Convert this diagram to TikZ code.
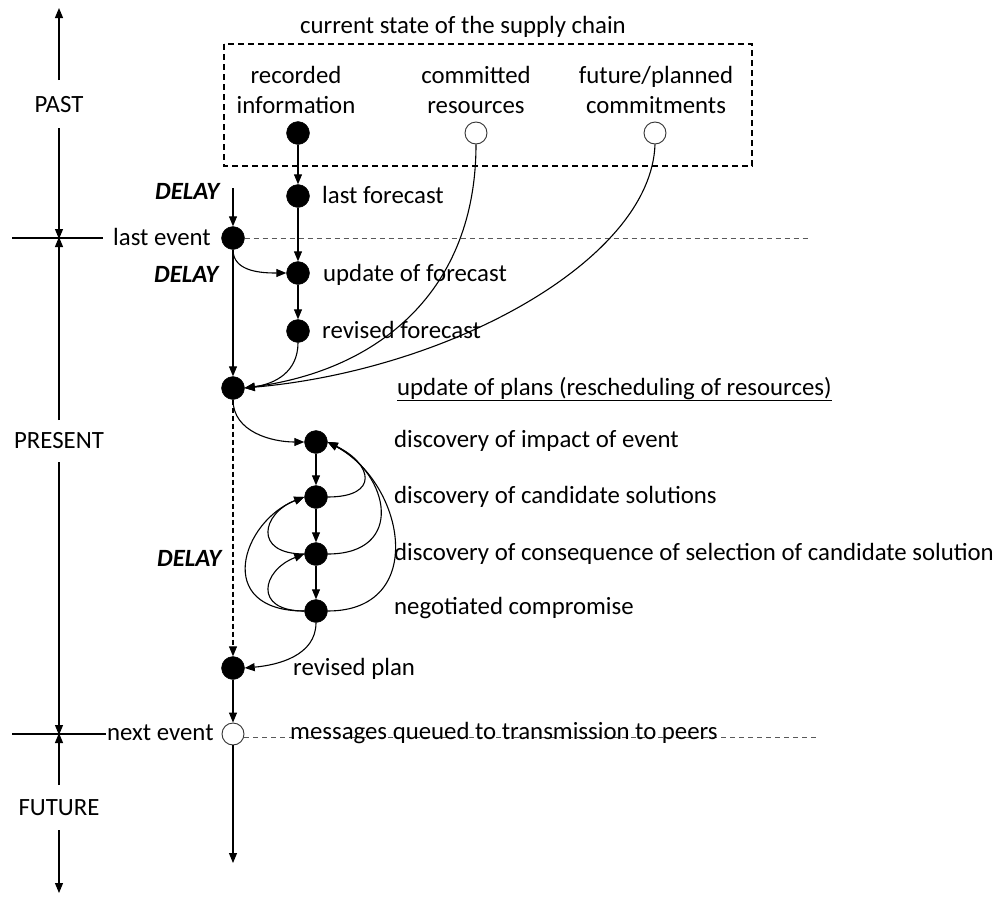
\documentclass[tikz,border=0pt]{standalone}
\usepackage{fontspec}
\setmainfont{Carlito}
\usetikzlibrary{arrows.meta}
\begin{document}
\begin{tikzpicture}[x=1pt,y=-1pt,
  every node/.style={font=\fontsize{24.8}{30}\selectfont},
  dot/.style={circle,fill=black,draw=black,minimum size=23pt,inner sep=0pt},
  hollow/.style={circle,fill=white,draw=black!80,line width=0.9pt,minimum size=22pt,inner sep=0pt},
  lbl/.style={anchor=base west,inner sep=0pt},
  delaylbl/.style={anchor=base west,inner sep=0pt,font=\fontsize{24.8}{30}\selectfont\bfseries\itshape},
  era/.style={anchor=base,inner sep=0pt},
  conn/.style={line width=1.1pt,-{Triangle[length=10pt,width=8pt]}},
  plain/.style={line width=1.1pt},
  guide/.style={line width=1pt,draw=black!65,dash pattern=on 5pt off 4pt},
  framebox/.style={line width=1.1pt,dash pattern=on 6pt off 4pt}
]
\useasboundingbox (0,0) rectangle (997,897);

% ---- time axis ----
\node[era] (past) at (59,112) {PAST};
\node[era] (present) at (59,448) {PRESENT};
\node[era] (future) at (59,815) {FUTURE};
\coordinate (axTop) at (59,8);
\coordinate (axA1) at (59,80);
\coordinate (axA2) at (59,128);
\coordinate (tickA) at (59,238);
\coordinate (axB1) at (59,420);
\coordinate (axB2) at (59,462);
\coordinate (tickB) at (59,734);
\coordinate (axC1) at (59,785);
\coordinate (axC2) at (59,830);
\coordinate (axBot) at (59,893);
\draw[conn] (axA1) -- (axTop);
\draw[conn] (axA2) -- ([yshift=-1pt]tickA);
\draw[conn] (axB1) -- ([yshift=1pt]tickA);
\draw[conn] (axB2) -- ([yshift=-1pt]tickB);
\draw[conn] (axC1) -- ([yshift=1pt]tickB);
\draw[conn] (axC2) -- (axBot);

\node[lbl] (lastevtxt) at (113,245) {last event};
\node[lbl] (nextevtxt) at (107,740) {next event};
\coordinate (tickAl) at (12,238);
\coordinate (tickBl) at (12,734);
\draw[plain] (tickAl) -- ([xshift=-10pt]lastevtxt.west |- tickAl);
\draw[plain] (tickBl) -- ([xshift=-1pt]nextevtxt.west |- tickBl);

% ---- current state of the supply chain ----
\node[anchor=base,inner sep=0pt] (title) at (463,33) {current state of the supply chain};
\coordinate (boxNW) at (224,44);
\coordinate (boxSE) at (752,166);
\draw[framebox] (boxNW) rectangle (boxSE);
\node[align=center,inner sep=0pt] (rectxt) at (296,90) {recorded\\information};
\node[align=center,inner sep=0pt] (comtxt) at (476,90) {committed\\resources};
\node[align=center,inner sep=0pt] (futtxt) at (656,90) {future/planned\\commitments};
\node[dot] (rec) at (298,133) {};
\node[hollow] (com) at (476,133) {};
\node[hollow] (fut) at (655,133) {};

% ---- event nodes ----
\coordinate (delayIn) at (233,188);
\node[dot] (lastev) at (233,238) {};
\node[dot] (lastfc) at (298,196) {};
\node[dot] (updfc) at (298,273) {};
\node[dot] (revfc) at (298,331) {};
\node[dot] (upd) at (233,388) {};
\node[dot] (d1) at (316,442) {};
\node[dot] (d2) at (316,497) {};
\node[dot] (d3) at (316,554) {};
\node[dot] (d4) at (316,611) {};
\node[dot] (revpl) at (233,668) {};
\node[hollow] (nextev) at (233,734) {};
\coordinate (tailEnd) at (233,863);

% ---- labels ----
\node[delaylbl] (delay1) at (155,199) {DELAY};
\node[delaylbl] (delay2) at (154,282) {DELAY};
\node[delaylbl] (delay3) at (157,566) {DELAY};
\node[lbl] at (322,203) {last forecast};
\node[lbl] at (323,281) {update of forecast};
\node[lbl] at (322,338) {revised forecast};
\node[lbl] (updtxt) at (397,395) {\underline{update of plans (rescheduling of resources)}};
\node[lbl] at (394,447) {discovery of impact of event};
\node[lbl] at (394,503) {discovery of candidate solutions};
\node[lbl] at (394,560) {discovery of consequence of selection of candidate solution};
\node[lbl] at (394,614) {negotiated compromise};
\node[lbl] at (293,675) {revised plan};

% ---- guide lines of the current events ----
\coordinate (guideA) at (808,238);
\coordinate (guideB) at (820,737);
\draw[guide] (lastev.east) -- (guideA);
\draw[guide] (nextev.east |- guideB) -- (guideB);
\node[lbl] at (290,739) {messages queued to transmission to peers};

% ---- connectors ----
\draw[conn] (delayIn) -- (lastev);
\draw[conn] (rec) -- (lastfc);
\draw[conn] (lastfc) -- (updfc);
\draw[conn] (updfc) -- (revfc);
\draw[conn] (lastev.south) to[out=-90,in=180] (updfc.west);
\draw[conn] (lastev) -- (upd);
\draw[conn] (revfc.south) .. controls (298,372) and (275,384) .. (upd.east);
\draw[conn] (com.south) .. controls (476,290) and (380,370) .. (upd.east);
\draw[conn] (fut.south) .. controls (651,260) and (450,370) .. (upd.east);
\draw[conn] (upd.south) to[out=-90,in=180] (d1.west);
\draw[conn,dash pattern=on 5pt off 3pt] (upd) -- (revpl);
\draw[conn] (d1) -- (d2);
\draw[conn] (d2) -- (d3);
\draw[conn] (d3) -- (d4);
% feedback to the impact of the event
\draw[conn] (d2.east) .. controls +(52,0) and +(45,22) .. (d1.east);
\draw[conn] (d3.east) .. controls +(78,0) and +(62,32) .. (d1.east);
\draw[conn] (d4.east) .. controls +(100,0) and +(78,42) .. (d1.east);
% feedback to the candidate solutions
\draw[conn] (d3.west) .. controls +(-52,0) and +(-42,16) .. (d2.west);
\draw[conn] (d4.west) .. controls +(-92,0) and +(-62,24) .. (d2.west);
\draw[conn] (d4.west) .. controls +(-52,0) and +(-42,16) .. (d3.west);
\draw[conn] (d4.south) to[out=-90,in=5] (revpl.east);
\draw[conn] (revpl) -- (nextev);
\draw[conn] (nextev) -- (tailEnd);
\end{tikzpicture}
\end{document}
